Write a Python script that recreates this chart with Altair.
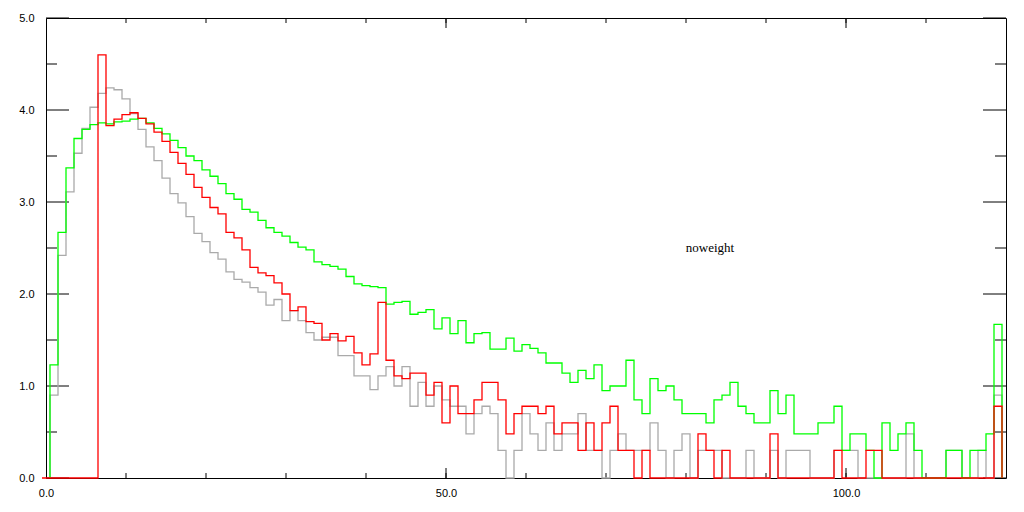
import altair as alt
import pandas as pd

# ---- data (bins centred on integers) ----
green_first_bin = 1
green = [1.23, 2.67, 3.37, 3.69, 3.79, 3.84, 3.86, 3.85, 3.87, 3.88,
         3.90, 3.91, 3.86, 3.80, 3.74, 3.67, 3.59, 3.50, 3.45, 3.35,
         3.28, 3.20, 3.09, 3.03, 2.92, 2.89, 2.80, 2.72, 2.67, 2.63,
         2.56, 2.51, 2.48, 2.35, 2.32, 2.30, 2.27, 2.19, 2.11, 2.09,
         2.08, 2.07, 1.89, 1.91, 1.92, 1.78, 1.80, 1.83, 1.62, 1.74,
         1.57, 1.71, 1.47, 1.57, 1.58, 1.40, 1.40, 1.52, 1.38, 1.45,
         1.41, 1.36, 1.25, 1.25, 1.14, 1.04, 1.17, 1.08, 1.23, 0.95,
         1.00, 1.00, 1.28, 0.85, 0.70, 1.08, 0.95, 1.00, 0.85, 0.70,
         0.70, 0.70, 0.60, 0.85, 0.90, 1.04, 0.78, 0.70, 0.60, 0.60,
         0.95, 0.70, 0.90, 0.48, 0.48, 0.48, 0.60, 0.60, 0.78, 0.30,
         0.48, 0.48, 0.30, 0.00, 0.60, 0.30, 0.48, 0.60, 0.30, 0.00,
         0.00, 0.00, 0.30, 0.30, 0.00, 0.30, 0.30, 0.48, 1.67]

red_first_bin = 0
red = [0, 0, 0, 0, 0, 0, 0,
       4.60, 3.83, 3.90, 3.95, 3.97, 3.91, 3.85, 3.76, 3.66,
       3.54, 3.42, 3.30, 3.16, 3.05, 2.94, 2.87, 2.67, 2.61, 2.48,
       2.29, 2.23, 2.20, 2.12, 2.00, 1.82, 1.86, 1.70, 1.68, 1.50,
       1.57, 1.49, 1.54, 1.36, 1.23, 1.35, 1.91, 1.28, 1.11, 1.08,
       1.14, 1.14, 0.90, 1.04, 0.60, 1.00, 0.70, 0.70, 0.85, 1.04,
       1.04, 0.85, 0.48, 0.70, 0.78, 0.78, 0.70, 0.78, 0.48, 0.60,
       0.60, 0.30, 0.60, 0.30, 0.60, 0.78, 0.30, 0.30, 0.00, 0.30,
       0, 0, 0, 0, 0, 0, 0.48, 0.30, 0.00, 0.30,
       0, 0, 0, 0, 0, 0.48, 0, 0, 0, 0,
       0, 0, 0, 0.30, 0, 0, 0, 0.30, 0.30, 0,
       0, 0, 0, 0, 0, 0, 0, 0, 0, 0,
       0, 0, 0, 0.78]

gray_first_bin = 1
gray = [0.90, 2.42, 3.11, 3.53, 3.80, 4.03, 4.18, 4.24, 4.22, 4.12,
        3.96, 3.79, 3.60, 3.45, 3.26, 3.09, 2.99, 2.84, 2.66, 2.57,
        2.45, 2.38, 2.24, 2.16, 2.13, 2.07, 2.02, 1.88, 1.94, 1.71,
        1.82, 1.71, 1.58, 1.50, 1.53, 1.53, 1.33, 1.33, 1.11, 1.11,
        0.96, 1.11, 1.21, 1.00, 1.21, 0.78, 1.04, 0.78, 1.00, 0.85,
        0.78, 0.78, 0.48, 0.70, 0.78, 0.70, 0.30, 0.00, 0.30, 0.70,
        0.48, 0.30, 0.60, 0.30, 0.48, 0.48, 0.70, 0.30, 0.30, 0.00,
        0.30, 0.48, 0.30, 0.30, 0.30, 0.60, 0.30, 0.00, 0.30, 0.48,
        0.00, 0.30, 0.30, 0.30, 0.00, 0.00, 0.00, 0.30, 0.00, 0.00,
        0.30, 0.00, 0.30, 0.30, 0.30, 0.00, 0.00, 0.00, 0.30, 0.30,
        0.30, 0.00, 0.00, 0.00, 0.00, 0.00, 0.00, 0.48, 0.00, 0.00,
        0.00, 0.00, 0.30, 0.30, 0.00, 0.00, 0.30, 0.00, 0.90]

x_label_values = [0, 50, 100]
x_tick_values = [10, 20, 30, 40, 50, 60, 70, 80, 90, 100, 110]
x_long_ticks = [50, 100]
y_label_values = [0, 1, 2, 3, 4, 5]
y_minor_ticks = [0.5, 1.5, 2.5, 3.5, 4.5]

note_text = ["noweight"]
note_x = [83]
note_y = [2.5]

X_DOMAIN = [0, 120]
Y_DOMAIN = [0, 5]
W, H = 960, 460


def step_table(vals, first_bin):
    xs_ = [first_bin - 0.5]
    ys_ = [0.0]
    for i, v in enumerate(vals):
        xs_.append(first_bin + i - 0.5)
        ys_.append(v)
    xs_.append(first_bin + len(vals) - 0.5)
    ys_.append(0.0)
    return pd.DataFrame({"x": xs_, "y": ys_, "i": list(range(len(xs_)))})


xs = alt.Scale(domain=X_DOMAIN, nice=False, zero=False)
ys = alt.Scale(domain=Y_DOMAIN, nice=False, zero=False)

x_axis = alt.Axis(values=x_label_values, format=".1f", tickSize=0, domain=False,
                  grid=False, labelPadding=9, labelFlush=False, title=None,
                  labelFont="Liberation Sans", labelFontSize=11, labelColor="black")
y_axis = alt.Axis(values=y_label_values, format=".1f", tickSize=0, domain=False,
                  grid=False, labelPadding=12, title=None,
                  labelFont="Liberation Sans", labelFontSize=11, labelColor="black")


def X(field):
    return alt.X(field, scale=xs, axis=x_axis, title=None)


def Y(field):
    return alt.Y(field, scale=ys, axis=y_axis, title=None)


def step_line(vals, first_bin, color):
    return alt.Chart(step_table(vals, first_bin)).mark_line(
        interpolate="step-after", color=color, strokeWidth=1.3
    ).encode(x=X("x:Q"), y=Y("y:Q"), order="i:Q")


gray_line = step_line(gray, gray_first_bin, "#aaaaaa")
green_line = step_line(green, green_first_bin, "#00ff00")
red_line = step_line(red, red_first_bin, "#ff0000")

ytick_major = pd.DataFrame({"v": y_label_values})
ytick_minor = pd.DataFrame({"v": y_minor_ticks})
xtick_all = pd.DataFrame({"v": x_tick_values})
xtick_long = pd.DataFrame({"v": x_long_ticks})


def yrule(df, x0, x1):
    return alt.Chart(df).mark_rule(color="black", strokeWidth=1).encode(
        y=Y("v:Q"), x=alt.value(x0), x2=alt.value(x1))


def xrule(df, y0, y1):
    return alt.Chart(df).mark_rule(color="black", strokeWidth=1).encode(
        x=X("v:Q"), y=alt.value(y0), y2=alt.value(y1))


ticks = [
    yrule(ytick_major, 0, 23), yrule(ytick_minor, 0, 11),
    yrule(ytick_major, W, W - 23), yrule(ytick_minor, W, W - 11),
    xrule(xtick_all, H, H - 5), xrule(xtick_long, H, H - 10),
    xrule(xtick_all, 0, 5), xrule(xtick_long, 0, 10),
]

note = alt.Chart(pd.DataFrame({"t": note_text, "x": note_x, "y": note_y})).mark_text(
    font="Liberation Serif", fontSize=13, align="center", baseline="middle", color="black"
).encode(x=X("x:Q"), y=Y("y:Q"), text="t:N")

chart = alt.layer(*ticks, gray_line, green_line, red_line, note).properties(
    width=W, height=H,
    padding={"left": 38, "top": 10, "right": 10, "bottom": 20},
    autosize=alt.AutoSizeParams(type="none"),
    background="white",
).configure_view(stroke="black", strokeWidth=1)

chart.save("out.html", embed_options={"renderer": "svg", "actions": False})
